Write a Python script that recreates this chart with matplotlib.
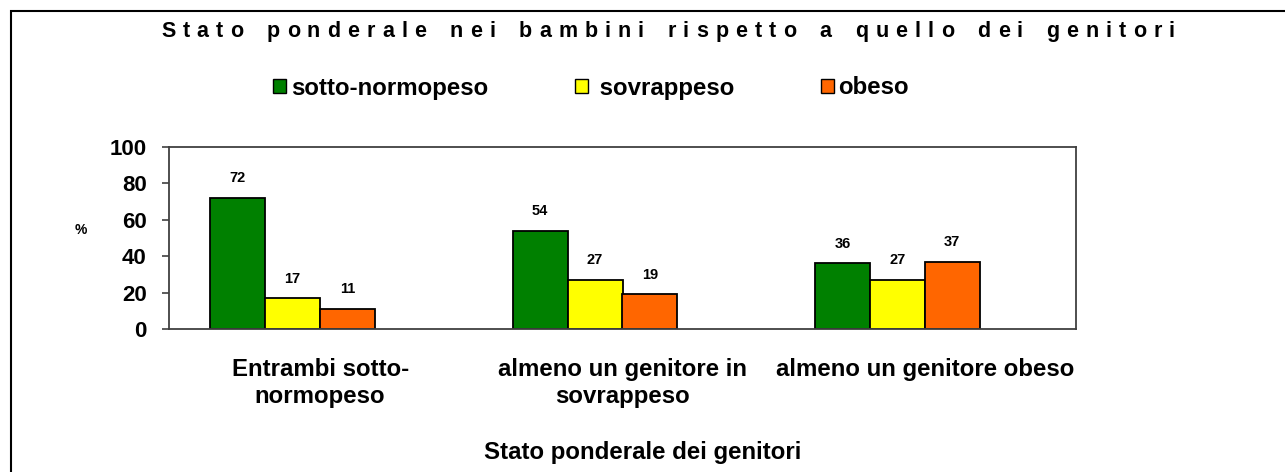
import numpy as np
import matplotlib
matplotlib.use("Agg")
from matplotlib import pyplot as plt
from matplotlib.patches import Rectangle, Patch

plt.rcParams['font.family'] = ['Liberation Sans', 'DejaVu Sans']
plt.rcParams['font.weight'] = 'bold'

# dati
categorie = ["Entrambi sotto-\nnormopeso", "almeno un genitore in\nsovrappeso", "almeno un genitore obeso"]
serie = ["sotto-normopeso", " sovrappeso", "obeso"]
sotto_normopeso = [72, 54, 36]
sovrappeso = [17, 27, 27]
obeso = [11, 19, 37]
colori = ["#008000", "#FFFF00", "#FF6600"]
titolo = "Stato ponderale nei bambini rispetto a quello dei genitori"

W, H = 1285, 472
fig = plt.figure(figsize=(W / 100, H / 100), dpi=100)
ax = fig.add_axes([169 / W, 1 - 329 / H, (1076 - 169) / W, (329 - 147) / H])

x = np.arange(len(categorie))
w = 1 / 5.5  # 4 serie (una vuota) + gap 150%
valori = [sotto_normopeso, sovrappeso, obeso]
for i, (vals, col) in enumerate(zip(valori, colori)):
    pos = x - 0.5 + 0.75 * w + w * (i + 0.5)
    bars = ax.bar(pos, vals, width=w, color=col, edgecolor="black", linewidth=1.3)
    for b, v in zip(bars, vals):
        ax.annotate(str(v), (b.get_x() + b.get_width() / 2, v), xytext=(0, 9),
                    textcoords="offset points", ha="center", va="bottom",
                    fontsize=10.5, fontweight="bold")

ax.set_xlim(-0.5, 2.5)
ax.set_ylim(0, 100)
ax.set_yticks([0, 20, 40, 60, 80, 100])
ax.set_xticks(x)
ax.set_xticklabels(categorie)
ax.tick_params(axis="y", direction="out", length=5, width=1.2, color="#404040",
               labelsize=16, pad=11)
ax.tick_params(axis="x", length=0, labelsize=17.3, pad=21)
for s in ax.spines.values():
    s.set_color("#404040")
    s.set_linewidth(1.3)

fig.text(81 / W, 1 - 230 / H, "%", ha="center", va="center", fontsize=10, fontweight="bold")

# titolo con lettere spaziate (una lettera alla volta)
r = fig.canvas.get_renderer()
fs_t = 15.5
parole = titolo.split()
larg = {}
for ch in set(titolo.replace(" ", "")):
    t = fig.text(0, 0, ch, fontsize=fs_t, fontweight="bold")
    larg[ch] = t.get_window_extent(renderer=r).width
    t.remove()
inchiostro = sum(larg[c] for c in titolo.replace(" ", ""))
n_lettere = sum(len(p) - 1 for p in parole)
n_parole = len(parole) - 1
x0, x1 = 161, 1175
g = (x1 - x0 - inchiostro) / (n_lettere + 3.3 * n_parole)
xp = x0
for k, p in enumerate(parole):
    for j, ch in enumerate(p):
        fig.text(xp / W, 1 - 37 / H, ch, ha="left", va="baseline",
                 fontsize=fs_t, fontweight="bold")
        xp += larg[ch] + (g if j < len(p) - 1 else 0)
    xp += 3.3 * g

fig.text(643 / W, 1 - 452 / H, "Stato ponderale dei genitori", ha="center", va="center",
         fontsize=17.3, fontweight="bold")

handles = [Patch(facecolor=c, edgecolor="black", linewidth=1.0) for c in colori]
fig.legend(handles, serie, loc="center", bbox_to_anchor=(591 / W, 1 - 88 / H), ncol=3,
           frameon=False, fontsize=17.3, handlelength=0.55, handleheight=0.55,
           handletextpad=0.2, columnspacing=3.6)

# bordo della figura
fig.patches.append(Rectangle((11 / W, -0.1), 1.0, 1.1 - 11 / H, transform=fig.transFigure,
                             fill=False, edgecolor="black", linewidth=1.5, clip_on=False))

fig.savefig("out.png", dpi=100)
